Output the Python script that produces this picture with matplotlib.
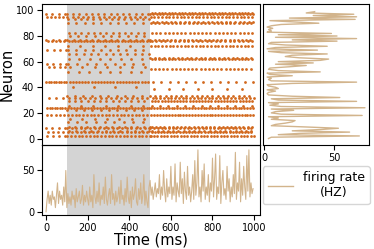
import matplotlib
matplotlib.use('Agg')
import matplotlib.pyplot as plt
import numpy as np

# neuron raster: index, spike period (ms) in the three phases 0-100 / 100-500 / 500-1000, phase offset
neuron_ids  = [2, 5, 6, 8, 9, 13, 15, 18, 22, 24, 25, 29, 32, 33, 39, 40, 44, 52, 54, 56, 58,
               62, 63, 66, 69, 72, 76, 77, 80, 82, 90, 91, 93, 95, 97, 98]
period_a    = [30, 25, 0, 30, 0, 0, 0, 20, 0, 12, 0, 0, 35, 0, 0, 0, 12, 0, 0, 25, 30,
               0, 0, 0, 30, 0, 20, 30, 0, 0, 0, 0, 0, 20, 30, 0]
period_b    = [18, 20, 35, 22, 30, 45, 60, 18, 40, 14, 60, 30, 25, 40, 0, 100, 15, 50, 0, 60, 45,
               50, 0, 35, 40, 60, 15, 30, 40, 30, 40, 0, 30, 25, 30, 0]
period_c    = [16, 15, 25, 18, 20, 0, 0, 14, 0, 14, 40, 15, 18, 25, 70, 0, 40, 0, 20, 0, 0,
               16, 22, 0, 0, 18, 22, 20, 0, 20, 20, 22, 0, 18, 16, 16]
phase_shift = [3, 7, 11, 1, 9, 4, 13, 6, 2, 5, 8, 10, 12, 0, 20, 30, 14, 7, 3, 15, 5,
               9, 1, 11, 6, 4, 8, 2, 13, 10, 5, 12, 7, 3, 0, 9]
phase_edges = [0, 100, 500, 1000]
stim_window = (100, 500)

# firing rate per neuron (Hz), neurons 0..99
neuron_rate = [3, 5, 68, 10, 25, 61, 20, 40, 53, 30, 5, 8, 15, 20, 22, 5, 10, 3, 70, 12,
               5, 8, 21, 5, 72, 12, 4, 10, 3, 66, 10, 5, 54, 20, 3, 2, 3, 8, 2, 10,
               8, 3, 2, 20, 66, 5, 3, 5, 2, 20, 4, 2, 40, 10, 3, 4, 18, 30, 8, 35,
               10, 40, 46, 25, 15, 20, 45, 12, 3, 38, 2, 8, 45, 15, 3, 5, 52, 20, 66, 8,
               52, 10, 48, 2, 5, 3, 6, 2, 5, 12, 39, 21, 4, 65, 18, 66, 35, 64, 30, 36]

# population rate (Hz), 5 ms bins
pop_rate = [0, 15, 25, 10, 20, 8, 25, 15, 18, 5, 20, 35, 10, 25, 15, 20, 8, 30, 12, 50,
            5, 22, 10, 18, 8, 25, 15, 20, 5, 28, 12, 18, 25, 10, 15, 32, 8, 20, 12, 25,
            15, 8, 30, 12, 20, 5, 45, 18, 10, 25, 12, 35, 8, 20, 15, 30, 10, 42, 15, 8,
            20, 28, 10, 45, 15, 22, 8, 25, 12, 18, 30, 10, 38, 15, 20, 8, 28, 12, 42, 18,
            10, 25, 5, 30, 15, 22, 40, 12, 8, 28, 15, 35, 10, 20, 45, 8, 25, 12, 5, 30,
            38, 20, 30, 15, 25, 35, 18, 28, 22, 45, 15, 30, 20, 50, 25, 12, 40, 18, 30, 22,
            55, 15, 30, 20, 58, 12, 35, 25, 18, 60, 22, 40, 10, 48, 25, 15, 55, 20, 30, 12,
            25, 45, 15, 62, 20, 35, 75, 18, 30, 12, 50, 25, 58, 15, 30, 20, 45, 12, 35, 25,
            65, 18, 40, 70, 15, 30, 22, 68, 10, 35, 50, 20, 28, 15, 55, 25, 40, 12, 30, 18,
            45, 22, 72, 15, 35, 25, 60, 12, 40, 20, 55, 30, 15, 68, 25, 75, 18, 35, 22, 28]
bin_ms = 5

spike_t, spike_i = [], []
for k, n in enumerate(neuron_ids):
    periods = [period_a[k], period_b[k], period_c[k]]
    for p, t0, t1 in zip(periods, phase_edges[:-1], phase_edges[1:]):
        if p > 0:
            ts = np.arange(t0 + phase_shift[k] % p, t1, p)
            spike_t.extend(ts)
            spike_i.extend([n] * len(ts))

fig = plt.figure(figsize=(3.74, 2.49), dpi=100)
ax_r = fig.add_axes([0.112, 0.418, 0.583, 0.566])
ax_h = fig.add_axes([0.703, 0.418, 0.284, 0.566])
ax_p = fig.add_axes([0.112, 0.137, 0.583, 0.281])
for ax in (ax_r, ax_h, ax_p):
    ax.set_facecolor('none')

xlim = (-20, 1028)

# raster
ax_r.axvspan(*stim_window, facecolor='#d4d4d4', edgecolor='none', zorder=1)
ax_r.scatter(spike_t, spike_i, s=4, color='chocolate', linewidths=0, zorder=2)
ax_r.set_xlim(xlim)
ax_r.set_ylim(-5, 105)
ax_r.set_ylabel('Neuron', fontsize=10.5, labelpad=1)
ax_r.set_yticks([0, 20, 40, 60, 80, 100])
ax_r.set_xticks([])
ax_r.tick_params(labelsize=7, pad=2)

# per-neuron rate
ax_h.plot(neuron_rate, np.arange(len(neuron_rate)), color='tan', lw=1, label='firing rate\n(HZ)')
ax_h.set_xlim(-1, 75)
ax_h.set_ylim(-5, 105)
ax_h.set_xticks([0, 50])
ax_h.set_yticks([])
ax_h.tick_params(labelsize=7, pad=2)

# population rate
ax_p.axvspan(*stim_window, facecolor='#d4d4d4', edgecolor='none', zorder=1)
ax_p.plot(np.arange(len(pop_rate)) * bin_ms, pop_rate, color='tan', lw=0.8, zorder=2)
ax_p.set_xlim(xlim)
ax_p.set_ylim(-3.8, 81)
ax_p.set_xticks([0, 200, 400, 600, 800, 1000])
ax_p.set_yticks([0, 50])
ax_p.tick_params(labelsize=7, pad=2)
ax_p.set_xlabel('Time (ms)', fontsize=10.5, labelpad=0)

leg = fig.legend(*ax_h.get_legend_handles_labels(), loc='center', fontsize=9,
                 bbox_to_anchor=(0.845, 0.257))
for txt in leg.get_texts():
    txt.set_multialignment('center')

plt.savefig('out.png', dpi=100)
